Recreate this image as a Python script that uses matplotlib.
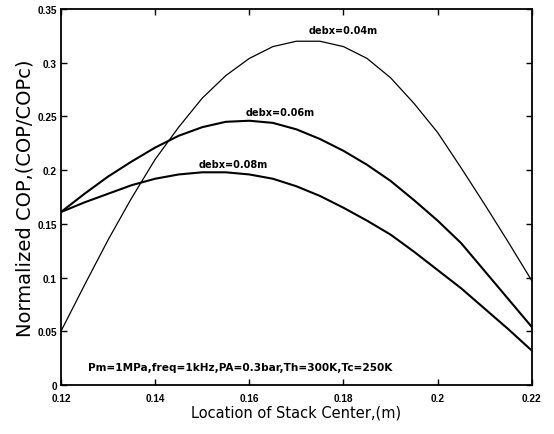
import numpy as np
import matplotlib
matplotlib.use("Agg")
from matplotlib import pyplot as plt

# stack centre location (m)
x = [0.120, 0.125, 0.130, 0.135, 0.140, 0.145, 0.150, 0.155, 0.160, 0.165, 0.170,
     0.175, 0.180, 0.185, 0.190, 0.195, 0.200, 0.205, 0.210, 0.215, 0.220]

# normalized COP for each stack length
cop_004 = [0.050, 0.093, 0.135, 0.174, 0.210, 0.240, 0.267, 0.288, 0.304, 0.315, 0.320,
           0.320, 0.315, 0.304, 0.286, 0.262, 0.235, 0.202, 0.168, 0.133, 0.097]
cop_006 = [0.161, 0.178, 0.194, 0.208, 0.221, 0.232, 0.240, 0.245, 0.246, 0.244, 0.238,
           0.229, 0.218, 0.205, 0.190, 0.172, 0.153, 0.132, 0.106, 0.080, 0.054]
cop_008 = [0.161, 0.170, 0.178, 0.186, 0.192, 0.196, 0.198, 0.198, 0.196, 0.192, 0.185,
           0.176, 0.165, 0.153, 0.140, 0.124, 0.107, 0.090, 0.071, 0.052, 0.032]

curve_labels = ["debx=0.04m", "debx=0.06m", "debx=0.08m"]
label_pos = [(0.1799, 0.330), (0.1665, 0.254), (0.1566, 0.206)]

xticks = [0.12, 0.14, 0.16, 0.18, 0.2, 0.22]
xticklabels = ["0.12", "0.14", "0.16", "0.18", "0.2", "0.22"]
yticks = [0, 0.05, 0.1, 0.15, 0.2, 0.25, 0.3, 0.35]
yticklabels = ["0", "0.05", "0.1", "0.15", "0.2", "0.25", "0.3", "0.35"]

fig = plt.figure(figsize=(5.54, 4.35), dpi=100)
ax = fig.add_axes([0.110, 0.1126, 0.850, 0.8644])

ax.plot(x, cop_004, color="black", lw=0.9)
ax.plot(x, cop_006, color="black", lw=1.5)
ax.plot(x, cop_008, color="black", lw=1.5)

for lab, (tx, ty) in zip(curve_labels, label_pos):
    ax.text(tx, ty, lab, ha="center", va="center", fontsize=7,
            fontweight="bold", family="DejaVu Sans")

ax.text(0.1257, 0.0168, "Pm=1MPa,freq=1kHz,PA=0.3bar,Th=300K,Tc=250K",
        ha="left", va="center", fontsize=7.6, fontweight="bold",
        family="DejaVu Sans")

ax.set_xlim(0.12, 0.22)
ax.set_ylim(0, 0.35)
ax.set_xticks(xticks)
ax.set_xticklabels(xticklabels)
ax.set_yticks(yticks)
ax.set_yticklabels(yticklabels)
ax.tick_params(direction="in", length=4, width=1, top=True, right=True)
ax.tick_params(axis="x", pad=6)
ax.tick_params(axis="y", pad=3)
for lbl in ax.get_xticklabels() + ax.get_yticklabels():
    lbl.set_fontsize(7.2)
    lbl.set_fontweight("bold")
    lbl.set_family("Liberation Sans")
for s in ax.spines.values():
    s.set_linewidth(1.3)

ax.set_xlabel("Location of Stack Center,(m)", fontsize=10.5, labelpad=1)
ax.set_ylabel("Normalized COP,(COP/COPc)", fontsize=14, labelpad=2)

fig.savefig("out.png", dpi=100)
